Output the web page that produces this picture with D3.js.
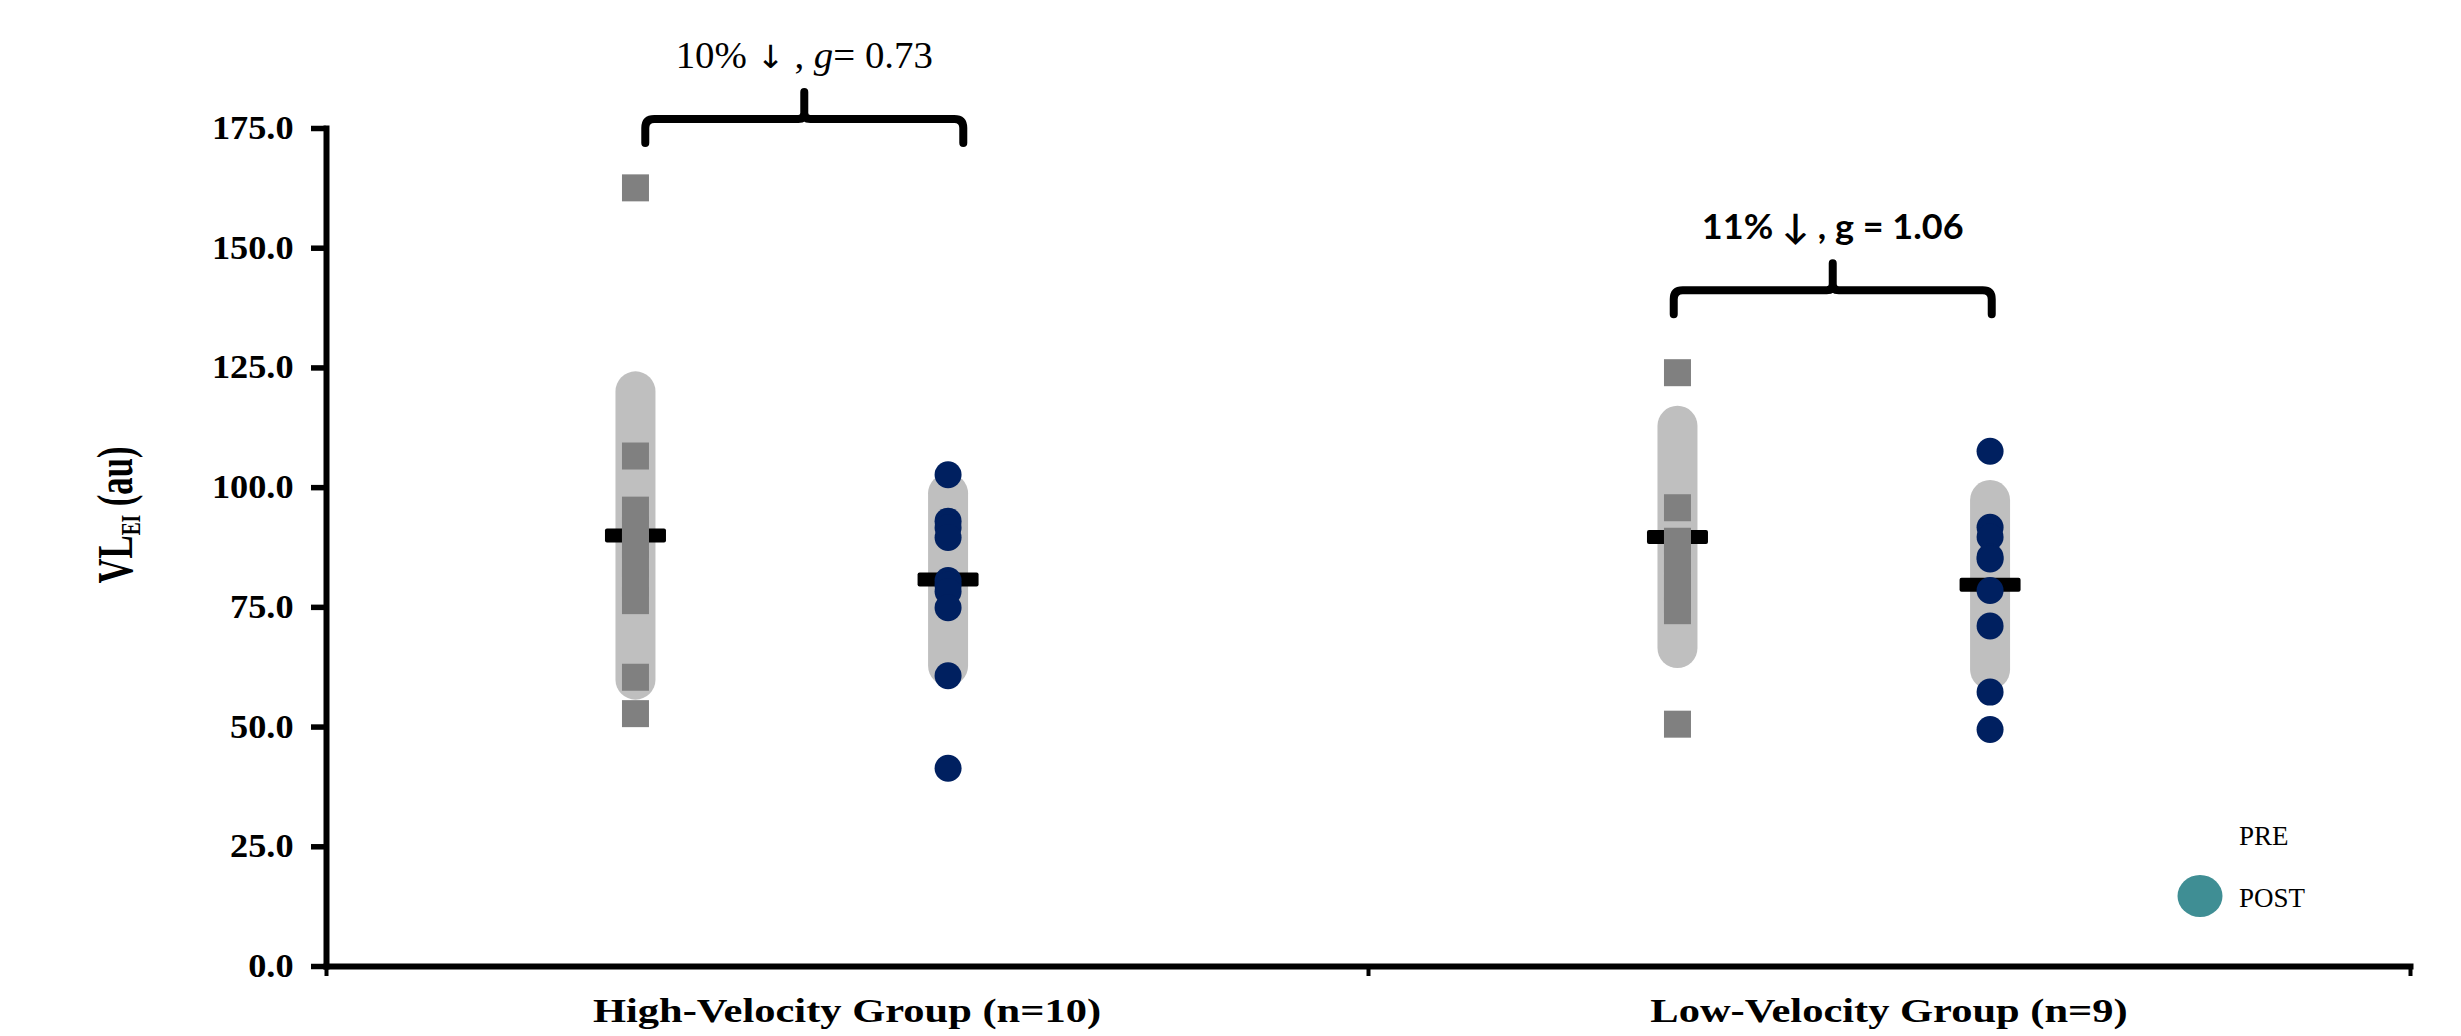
<!DOCTYPE html>
<html>
<head>
<meta charset="utf-8">
<script src="https://cdn.jsdelivr.net/npm/d3@7"></script>
<style>
  body { margin: 0; background: #fff; }
  svg { display: block; }
</style>
</head>
<body>
<svg id="chart" width="2461" height="1036"></svg>
<script>
// values (au)
var groups = ["High-Velocity Group (n=10)", "Low-Velocity Group (n=9)"];
var phases = ["PRE", "POST"];
var preHigh  = [162.5, 106.5, 95.2, 91.0, 88.0, 84.0, 80.0, 76.3, 60.3, 52.7];
var postHigh = [102.6, 92.9, 91.5, 89.5, 80.5, 79.5, 78.2, 74.8, 60.6, 41.3];
var preLow   = [123.9, 95.7, 88.7, 85.0, 82.0, 79.0, 76.5, 74.2, 50.5];
var postLow  = [107.5, 91.6, 89.6, 85.4, 85.0, 78.4, 71.0, 57.2, 49.4];
var preMean  = [89.9, 89.6];
var postMean = [80.7, 79.6];
var preSD    = [30.1, 23.2];
var postSD   = [18.0, 17.7];
var yTicks   = [0, 25, 50, 75, 100, 125, 150, 175];
var annotText  = ["11% \u2193 , g = 1.06"];
var braceValue = [176.9, 141.1];

var svg = d3.select("#chart"),
    plotLeft = 326, plotRight = 2410, plotTop = 128, plotBottom = 966;

var yScale = d3.scaleLinear().domain([0, 175]).range([plotBottom, plotTop]);
var xBand = d3.scaleBand().domain(groups).range([plotLeft, plotRight]);
var phasePos = d3.scaleOrdinal().domain(phases).range([0.297, 0.597]); // place inside each band
var xEdge = d3.scaleLinear().domain([0, groups.length]).range([plotLeft, plotRight]);

function xOf(g, p) { return xBand(g) + phasePos(p) * xBand.bandwidth(); }

var series = [
  {g: groups[0], p: "PRE",  values: preHigh,  mean: preMean[0],  sd: preSD[0]},
  {g: groups[0], p: "POST", values: postHigh, mean: postMean[0], sd: postSD[0]},
  {g: groups[1], p: "PRE",  values: preLow,   mean: preMean[1],  sd: preSD[1]},
  {g: groups[1], p: "POST", values: postLow,  mean: postMean[1], sd: postSD[1]}
];

// sd capsules
svg.selectAll(".sd")
   .data(series)
   .enter().append("line")
   .attr("x1", function(d) { return xOf(d.g, d.p); })
   .attr("x2", function(d) { return xOf(d.g, d.p); })
   .attr("y1", function(d) { return yScale(d.mean + d.sd); })
   .attr("y2", function(d) { return yScale(d.mean - d.sd); })
   .attr("stroke", "#bfbfbf")
   .attr("stroke-width", 40)
   .attr("stroke-linecap", "round");

// mean bars
svg.selectAll(".mean")
   .data(series)
   .enter().append("rect")
   .attr("x", function(d) { return xOf(d.g, d.p) - 30.5; })
   .attr("y", function(d) { return yScale(d.mean) - 7; })
   .attr("width", 61)
   .attr("height", 14)
   .attr("rx", 2)
   .attr("fill", "#000");

// individual points
series.forEach(function(s) {
  var pts = svg.append("g");
  if (s.p === "PRE") {
    pts.selectAll("rect")
       .data(s.values)
       .enter().append("rect")
       .attr("x", xOf(s.g, s.p) - 13.5)
       .attr("y", function(v) { return yScale(v) - 13.5; })
       .attr("width", 27)
       .attr("height", 27)
       .attr("fill", "#808080");
  } else {
    pts.selectAll("circle")
       .data(s.values)
       .enter().append("circle")
       .attr("cx", xOf(s.g, s.p))
       .attr("cy", function(v) { return yScale(v); })
       .attr("r", 13.5)
       .attr("fill", "#002060");
  }
});

// y axis
var yAxis = svg.append("g")
   .attr("transform", "translate(" + plotLeft + ",0)")
   .call(d3.axisLeft(yScale).tickValues(yTicks).tickSize(15).tickSizeOuter(0)
           .tickPadding(14.5).tickFormat(d3.format(".1f")));
yAxis.select(".domain").attr("stroke-width", 6).attr("stroke-linecap", "square");
yAxis.selectAll(".tick line").attr("stroke-width", 5.5);
yAxis.selectAll(".tick text")
     .attr("font-family", "'Liberation Serif', 'Times New Roman', serif")
     .attr("font-weight", "bold")
     .attr("font-size", 33)
     .attr("fill", "#000")
     .attr("transform", "scale(1.1,1)");

// x axis with ticks at the band edges
var xAxis = svg.append("g")
   .attr("transform", "translate(0," + plotBottom + ")")
   .call(d3.axisBottom(xEdge).tickValues(d3.range(groups.length + 1)).tickSize(10)
           .tickSizeOuter(0).tickFormat(""));
xAxis.select(".domain").attr("stroke-width", 6).attr("stroke-linecap", "square");
xAxis.selectAll(".tick line").attr("stroke-width", 4);

svg.selectAll(".glabel")
   .data(groups)
   .enter().append("text")
   .attr("transform", function(g) {
       return "translate(" + (xBand(g) + xBand.bandwidth() / 2) + ",1022) scale(1.25,1)";
   })
   .attr("text-anchor", "middle")
   .attr("font-family", "'Liberation Serif', 'Times New Roman', serif")
   .attr("font-weight", "bold")
   .attr("font-size", 34)
   .text(function(g) { return g; });

// y title
var yt = svg.append("text")
   .attr("transform", "translate(132,515) rotate(-90)")
   .attr("text-anchor", "middle")
   .attr("font-family", "'Liberation Serif', 'Times New Roman', serif")
   .attr("font-weight", "bold")
   .attr("font-size", 50)
   .attr("textLength", 137)
   .attr("lengthAdjust", "spacingAndGlyphs");
yt.append("tspan").text("VL");
yt.append("tspan").attr("font-size", 28).attr("dy", 8).text("EI");
yt.append("tspan").attr("dy", -8).text(" (au)");

// braces with effect sizes
function bracePath(xl, xr, yb) {
  var xm = (xl + xr) / 2;
  return "M" + xl + "," + (yb + 24) + "L" + xl + "," + (yb + 9) +
         "Q" + xl + "," + yb + " " + (xl + 9) + "," + yb +
         "L" + (xm - 6) + "," + yb + "Q" + xm + "," + yb + " " + xm + "," + (yb - 6) +
         "L" + xm + "," + (yb - 27) +
         "M" + xm + "," + (yb - 6) + "Q" + xm + "," + yb + " " + (xm + 6) + "," + yb +
         "L" + (xr - 9) + "," + yb + "Q" + xr + "," + yb + " " + xr + "," + (yb + 9) +
         "L" + xr + "," + (yb + 24);
}
var braceCentre = [0.459, 0.446];
groups.forEach(function(g, i) {
  var cx = xBand(g) + braceCentre[i] * xBand.bandwidth(),
      yb = yScale(braceValue[i]);
  svg.append("path")
     .attr("d", bracePath(cx - 159, cx + 159, yb))
     .attr("fill", "none")
     .attr("stroke", "#000")
     .attr("stroke-width", 8)
     .attr("stroke-linecap", "round")
     .attr("stroke-linejoin", "round");

  var t = svg.append("text")
     .attr("text-anchor", "middle");
  if (i === 0) {
    t.attr("transform", "translate(" + cx + "," + (yb - 51) + ") scale(1.05,1)")
     .attr("font-family", "'Liberation Serif', 'DejaVu Serif', serif").attr("font-size", 37);
    t.append("tspan").text("10% ");
    t.append("tspan").attr("font-family", "'DejaVu Sans', sans-serif").attr("font-size", 32).text("\u2193");
    t.append("tspan").text(" , ");
    t.append("tspan").attr("font-style", "italic").text("g");
    t.append("tspan").text("= 0.73");
  } else {
    t.attr("transform", "translate(" + cx + "," + (yb - 51) + ") scale(1.03,1)")
     .attr("font-family", "Lato, 'Open Sans', sans-serif").attr("font-weight", "bold")
     .attr("font-size", 35).text(annotText[0]);
  }
});

// legend
var legend = svg.append("g").attr("transform", "translate(2200,0)");
legend.append("ellipse")
      .attr("cx", 0).attr("cy", 896).attr("rx", 22.5).attr("ry", 21)
      .attr("fill", "#3f8e94");
legend.selectAll(".lt")
      .data(phases)
      .enter().append("text")
      .attr("x", 39)
      .attr("y", function(d, i) { return 845 + i * 61.7; })
      .attr("font-family", "'Liberation Serif', 'Times New Roman', serif")
      .attr("font-size", 27)
      .text(function(d) { return d; });
</script>
</body>
</html>
